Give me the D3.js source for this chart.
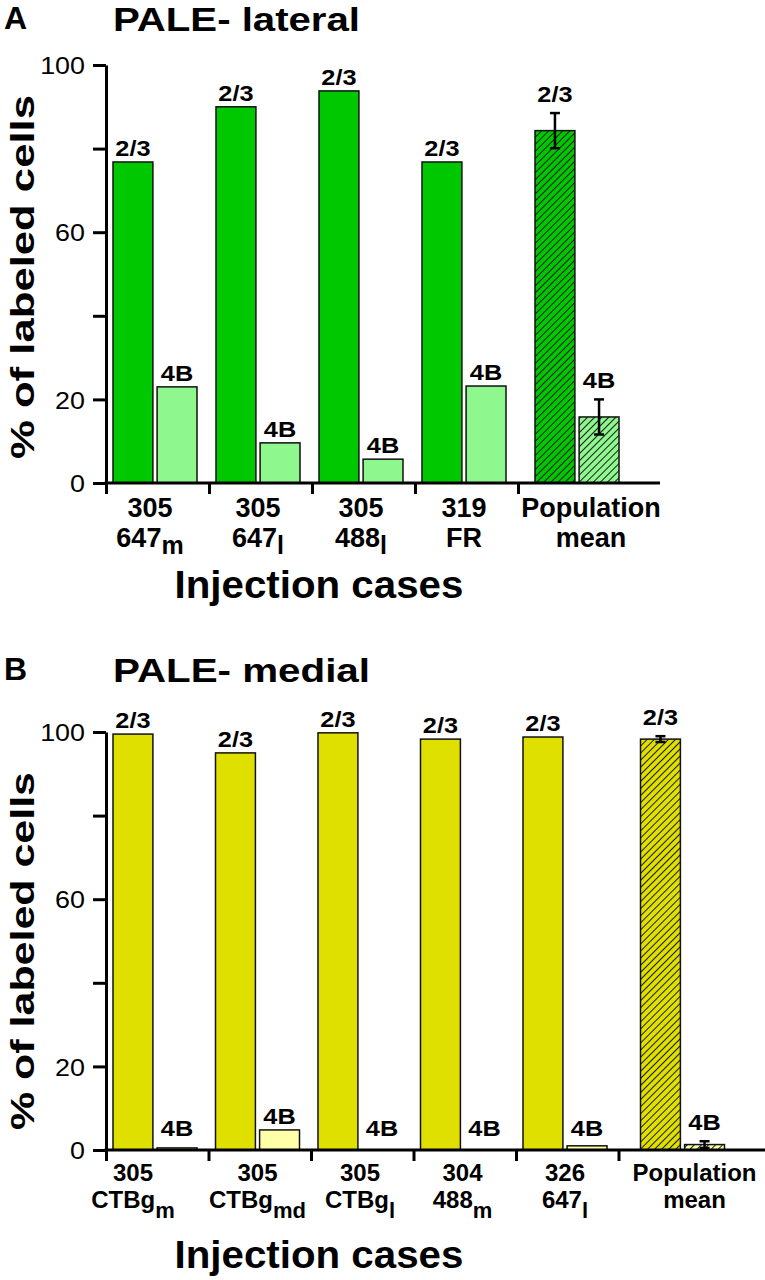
<!DOCTYPE html>
<html>
<head>
<meta charset="utf-8">
<script src="https://cdn.jsdelivr.net/npm/d3@7"></script>
<style>
  html, body { margin: 0; padding: 0; background: #fff; }
  svg { display: block; }
  text { font-family: "Liberation Sans", Arial, Helvetica, sans-serif; fill: #000; }
</style>
</head>
<body>
<svg id="chart" width="765" height="1280"></svg>
<script>
// ---------------- DATA ----------------
const yTickValues = [0, 20, 40, 60, 80, 100];
const yTickLabels = ["0", "20", "", "60", "", "100"];
const seriesNames = ["2/3", "4B"];

// Panel A: PALE- lateral
const lateralLine1 = ["305", "305", "305", "319", "Population"];
const lateralLine2 = ["647", "647", "488", "FR", "mean"];
const lateralSub   = ["m", "l", "l", "", ""];
const lateral23    = [76.8, 90.0, 93.8, 76.8, 84.3];
const lateral4B    = [23.0, 9.6, 5.7, 23.2, 15.8];
const lateralErr23 = [0, 0, 0, 0, 4.2];
const lateralErr4B = [0, 0, 0, 0, 4.2];

// Panel B: PALE- medial
const medialLine1 = ["305", "305", "305", "304", "326", "Population"];
const medialLine2 = ["CTBg", "CTBg", "CTBg", "488", "647", "mean"];
const medialSub   = ["m", "md", "l", "m", "l", ""];
const medial23    = [99.5, 95.0, 99.8, 98.3, 98.8, 98.3];
const medial4B    = [0.5, 4.8, 0.0, 0.0, 1.0, 1.3];
const medialErr23 = [0, 0, 0, 0, 0, 0.7];
const medialErr4B = [0, 0, 0, 0, 0, 0.8];

// ---------------- DRAWING ----------------
const svg = d3.select("#chart");
const defs = svg.append("defs");

function hatch(id, fill) {
  const p = defs.append("pattern")
    .attr("id", id).attr("patternUnits", "userSpaceOnUse")
    .attr("width", 5).attr("height", 5)
    .attr("patternTransform", "rotate(45)");
  p.append("rect").attr("width", 5).attr("height", 5).attr("fill", fill);
  p.append("line").attr("x1", 0.5).attr("y1", 0).attr("x2", 0.5).attr("y2", 5)
    .attr("stroke", "#1a1a1a").attr("stroke-width", 1.0);
}

function stretch(sel, k) {
  sel.each(function () {
    const L = this.getComputedTextLength();
    this.setAttribute("textLength", L * k);
    this.setAttribute("lengthAdjust", "spacingAndGlyphs");
  });
}

function drawPanel(cfg) {
  const n = cfg.v23.length;
  const g = svg.append("g");
  hatch(cfg.id + "h0", cfg.colors[0]);
  hatch(cfg.id + "h1", cfg.colors[1]);

  const y = d3.scaleLinear().domain([0, 100]).range([cfg.y0, cfg.y100]);
  const x = d3.scaleBand().domain(d3.range(n)).range([cfg.ax, cfg.ax + cfg.step * n]);
  const xl = d3.scaleLinear().domain([0, n]).range([cfg.ax, cfg.ax + cfg.step * n]);
  const sub = d3.scaleBand().domain([0, 1]).range([0, 84]).paddingInner(0.095);
  const gx = i => x(i) + 7 + (i === n - 1 ? cfg.meanShift : 0);

  const rows = [];
  d3.range(n).forEach(i => {
    rows.push({ i, s: 0, v: cfg.v23[i], e: cfg.e23[i], mean: i === n - 1 });
    rows.push({ i, s: 1, v: cfg.v4B[i], e: cfg.e4B[i], mean: i === n - 1 });
  });

  // bars
  g.selectAll("rect.bar").data(rows).join("rect")
    .attr("class", "bar")
    .attr("x", d => gx(d.i) + sub(d.s))
    .attr("width", sub.bandwidth())
    .attr("y", d => y(d.v))
    .attr("height", d => y(0) - y(d.v))
    .attr("fill", d => d.mean ? `url(#${cfg.id}h${d.s})` : cfg.colors[d.s])
    .attr("stroke", "#111").attr("stroke-width", 1.5);

  // error bars
  const eb = rows.filter(d => d.e > 0);
  const cx = d => gx(d.i) + sub(d.s) + sub.bandwidth() / 2;
  g.selectAll("line.eb").data(eb).join("line")
    .attr("x1", cx).attr("x2", cx)
    .attr("y1", d => y(d.v + d.e)).attr("y2", d => y(d.v - d.e))
    .attr("stroke", "#000").attr("stroke-width", 2.5);
  ["+", "-"].forEach(sg => {
    g.selectAll("line.cap" + (sg === "+" ? "t" : "b")).data(eb).join("line")
      .attr("x1", d => cx(d) - 5).attr("x2", d => cx(d) + 5)
      .attr("y1", d => y(sg === "+" ? d.v + d.e : d.v - d.e))
      .attr("y2", d => y(sg === "+" ? d.v + d.e : d.v - d.e))
      .attr("stroke", "#000").attr("stroke-width", 2.5);
  });

  // bar labels
  const bl = g.selectAll("text.bl").data(rows).join("text")
    .attr("class", "bl")
    .attr("x", cx)
    .attr("y", d => d.e > 0 ? y(d.v + d.e) - 11 : y(Math.max(d.v, 2)) - 6)
    .attr("text-anchor", "middle")
    .attr("font-size", 22).attr("font-weight", "bold")
    .text(d => seriesNames[d.s]);
  stretch(bl, 1.15);

  // y axis
  const yAxis = g.append("g").attr("transform", `translate(${cfg.ax},0)`)
    .call(d3.axisLeft(y).tickValues(yTickValues)
      .tickFormat((d, i) => yTickLabels[i]).tickSize(13).tickSizeOuter(0).tickPadding(8));
  yAxis.select(".domain").attr("stroke", "#000").attr("stroke-width", 3);
  yAxis.selectAll(".tick line").attr("stroke", "#000").attr("stroke-width", 3);
  const yt = yAxis.selectAll(".tick text")
    .attr("font-size", 24).attr("font-family", "Liberation Sans, Arial, sans-serif")
    .attr("fill", "#000").attr("dy", "0.36em");
  stretch(yt, 1.12);

  // x axis
  g.append("line").attr("x1", cfg.ax - 1.5).attr("x2", cfg.axEnd)
    .attr("y1", cfg.y0).attr("y2", cfg.y0)
    .attr("stroke", "#000").attr("stroke-width", 3);
  const xAxis = g.append("g").attr("transform", `translate(0,${cfg.y0})`)
    .call(d3.axisBottom(xl).tickValues(d3.range(n)).tickFormat("").tickSize(11).tickSizeOuter(0));
  xAxis.select(".domain").remove();
  xAxis.selectAll(".tick line").attr("stroke", "#000").attr("stroke-width", 3);

  // x tick labels
  const lx = i => gx(i) + 42 + (i === n - 1 ? cfg.labelShift : 0) + (i === 0 ? cfg.firstShift : 0);
  g.selectAll("text.l1").data(cfg.line1).join("text")
    .attr("class", "l1")
    .attr("x", (d, i) => lx(i)).attr("y", cfg.y0 + cfg.l1)
    .attr("text-anchor", "middle").attr("font-size", cfg.lfs).attr("font-weight", "bold")
    .text(d => d);
  const l2 = g.selectAll("text.l2").data(cfg.line2).join("text")
    .attr("class", "l2")
    .attr("x", (d, i) => lx(i)).attr("y", cfg.y0 + cfg.l2)
    .attr("text-anchor", "middle").attr("font-size", cfg.lfs).attr("font-weight", "bold");
  l2.each(function (d, i) {
    const t = d3.select(this);
    t.append("tspan").text(d);
    if (cfg.sub[i]) t.append("tspan").attr("font-size", cfg.lfs - 2).attr("dy", cfg.subDy).text(cfg.sub[i]);
  });

  // axis title x
  const xt = g.append("text").attr("x", cfg.xTitleX).attr("y", cfg.y0 + cfg.xTitleDy)
    .attr("text-anchor", "middle").attr("font-size", 38).attr("font-weight", "bold")
    .text("Injection cases");
  stretch(xt, 1.06);

  // axis title y
  g.append("text")
    .attr("transform", `translate(${cfg.yTitleX},${cfg.yTitleY}) rotate(-90)`)
    .attr("text-anchor", "middle").attr("font-size", 34).attr("font-weight", "bold")
    .attr("textLength", cfg.yTitleLen).attr("lengthAdjust", "spacingAndGlyphs")
    .text("% of labeled cells");

  // panel letter and title
  g.append("text").attr("x", 4).attr("y", cfg.titleY - 2)
    .attr("font-size", 32).attr("font-weight", "bold").text(cfg.letter);
  g.append("text").attr("x", 113).attr("y", cfg.titleY)
    .attr("font-size", 34).attr("font-weight", "bold")
    .attr("textLength", cfg.titleLen).attr("lengthAdjust", "spacingAndGlyphs")
    .text(cfg.title);
}

drawPanel({
  id: "A", letter: "A", title: "PALE- lateral", titleY: 31, titleLen: 247,
  v23: lateral23, v4B: lateral4B, e23: lateralErr23, e4B: lateralErr4B,
  line1: lateralLine1, line2: lateralLine2, sub: lateralSub,
  colors: ["#00c800", "#8ef88e"],
  y0: 483, y100: 65, ax: 106, step: 103, meanShift: 10, labelShift: 14, firstShift: -5, axEnd: 660,
  lfs: 27, l1: 34, l2: 64, subDy: 7, xTitleX: 319, xTitleDy: 115,
  yTitleX: 34, yTitleY: 277, yTitleLen: 364
});

drawPanel({
  id: "B", letter: "B", title: "PALE- medial", titleY: 682, titleLen: 257,
  v23: medial23, v4B: medial4B, e23: medialErr23, e4B: medialErr4B,
  line1: medialLine1, line2: medialLine2, sub: medialSub,
  colors: ["#e0e000", "#ffffa8"],
  y0: 1150, y100: 732, ax: 106, step: 102.5, meanShift: 15, labelShift: 12, firstShift: -22, axEnd: 765,
  lfs: 24, l1: 31, l2: 58, subDy: 10, xTitleX: 319, xTitleDy: 118,
  yTitleX: 34, yTitleY: 951, yTitleLen: 358
});
</script>
</body>
</html>
